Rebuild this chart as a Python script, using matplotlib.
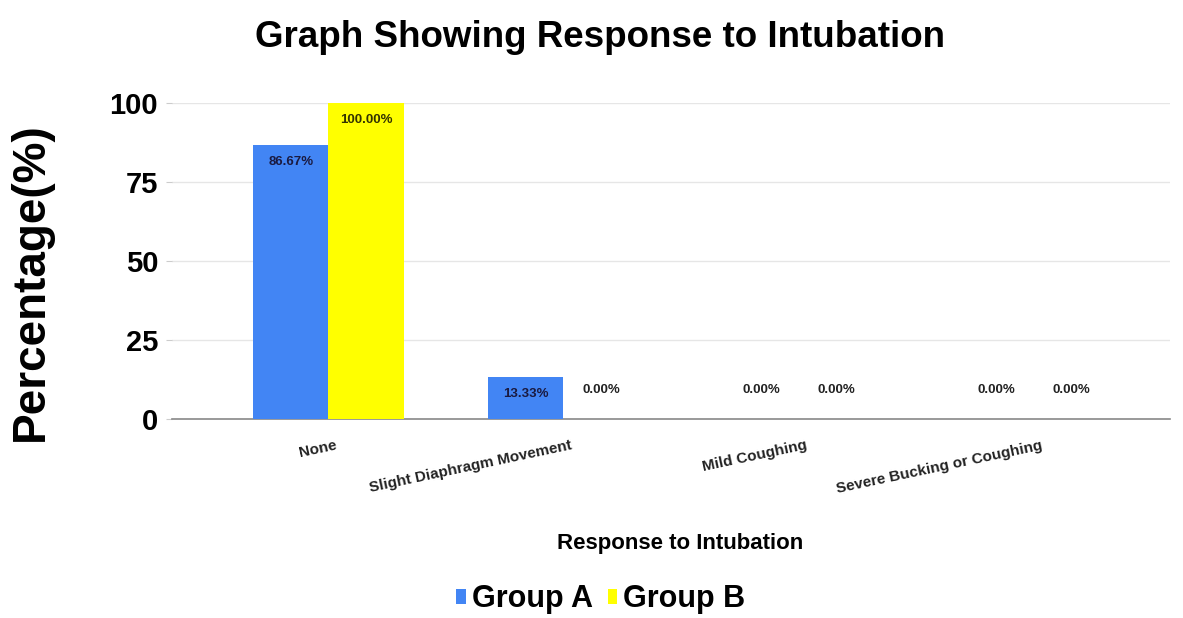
import numpy as np
import matplotlib.pyplot as plt

plt.rcParams['font.family'] = ['Liberation Sans', 'DejaVu Sans']

categories = ['None', 'Slight Diaphragm Movement', 'Mild Coughing', 'Severe Bucking or Coughing']
group_a = [86.67, 13.33, 0.0, 0.0]
group_b = [100.0, 0.0, 0.0, 0.0]
y_ticks = [0, 25, 50, 75, 100]

blue = '#4285F4'
yellow = '#FFFF00'

fig = plt.figure(figsize=(11.83, 6.18), dpi=100)
ax = fig.add_axes([0.1454, 0.322, 0.8436, 0.511])

x = np.arange(len(categories))
w = 0.32
bars_a = ax.bar(x - w / 2, group_a, w, color=blue, label='Group A', zorder=3)
bars_b = ax.bar(x + w / 2, group_b, w, color=yellow, label='Group B', zorder=3)

# value labels
for bars, vals in [(bars_a, group_a), (bars_b, group_b)]:
    for b, v in zip(bars, vals):
        cx = b.get_x() + b.get_width() / 2
        if v > 0:
            ax.annotate(f'{v:.2f}%', (cx, v), xytext=(0, -17), textcoords='offset pixels',
                        ha='center', va='center', fontsize=9.5, fontweight='bold',
                        color='#1a1a40' if bars is bars_a else '#333300', zorder=4)
        else:
            ax.annotate(f'{v:.2f}%', (cx, v), xytext=(0, 29), textcoords='offset pixels',
                        ha='center', va='center', fontsize=9.5, fontweight='bold',
                        color='#222222', zorder=4)

ax.set_xlim(-0.665, 3.58)
ax.set_ylim(0, 100)
ax.set_yticks(y_ticks)
ax.set_yticklabels([str(t) for t in y_ticks], fontsize=21, fontweight='bold')
ax.tick_params(axis='y', length=4, color='#cccccc', pad=6)
ax.tick_params(axis='x', length=0, pad=14)
ax.set_xticks(x + 0.03)
ax.set_xticklabels(categories, rotation=12, ha='right', rotation_mode='anchor',
                   fontsize=11, fontweight='bold', color='#222222')
ax.yaxis.grid(True, color='#e6e6e6', linewidth=1, zorder=0)
for s in ['top', 'right', 'left']:
    ax.spines[s].set_visible(False)
ax.spines['bottom'].set_color('#888888')
ax.spines['bottom'].set_linewidth(1.2)

fig.text(0.507, 0.94, 'Graph Showing Response to Intubation', ha='center', va='center',
         fontsize=26.5, fontweight='bold')
fig.text(0.026, 0.544, 'Percentage(%)', rotation=90, ha='center', va='center',
         fontsize=33, fontweight='bold')
fig.text(0.575, 0.121, 'Response to Intubation', ha='center', va='center',
         fontsize=16, fontweight='bold')

fig.legend(loc='center', bbox_to_anchor=(0.508, 0.03), ncol=2, frameon=False,
           prop={'size': 22, 'weight': 'bold'}, handlelength=0.3, handleheight=0.4,
           handletextpad=0.2, columnspacing=0.5)

fig.savefig('out.png', dpi=100)
